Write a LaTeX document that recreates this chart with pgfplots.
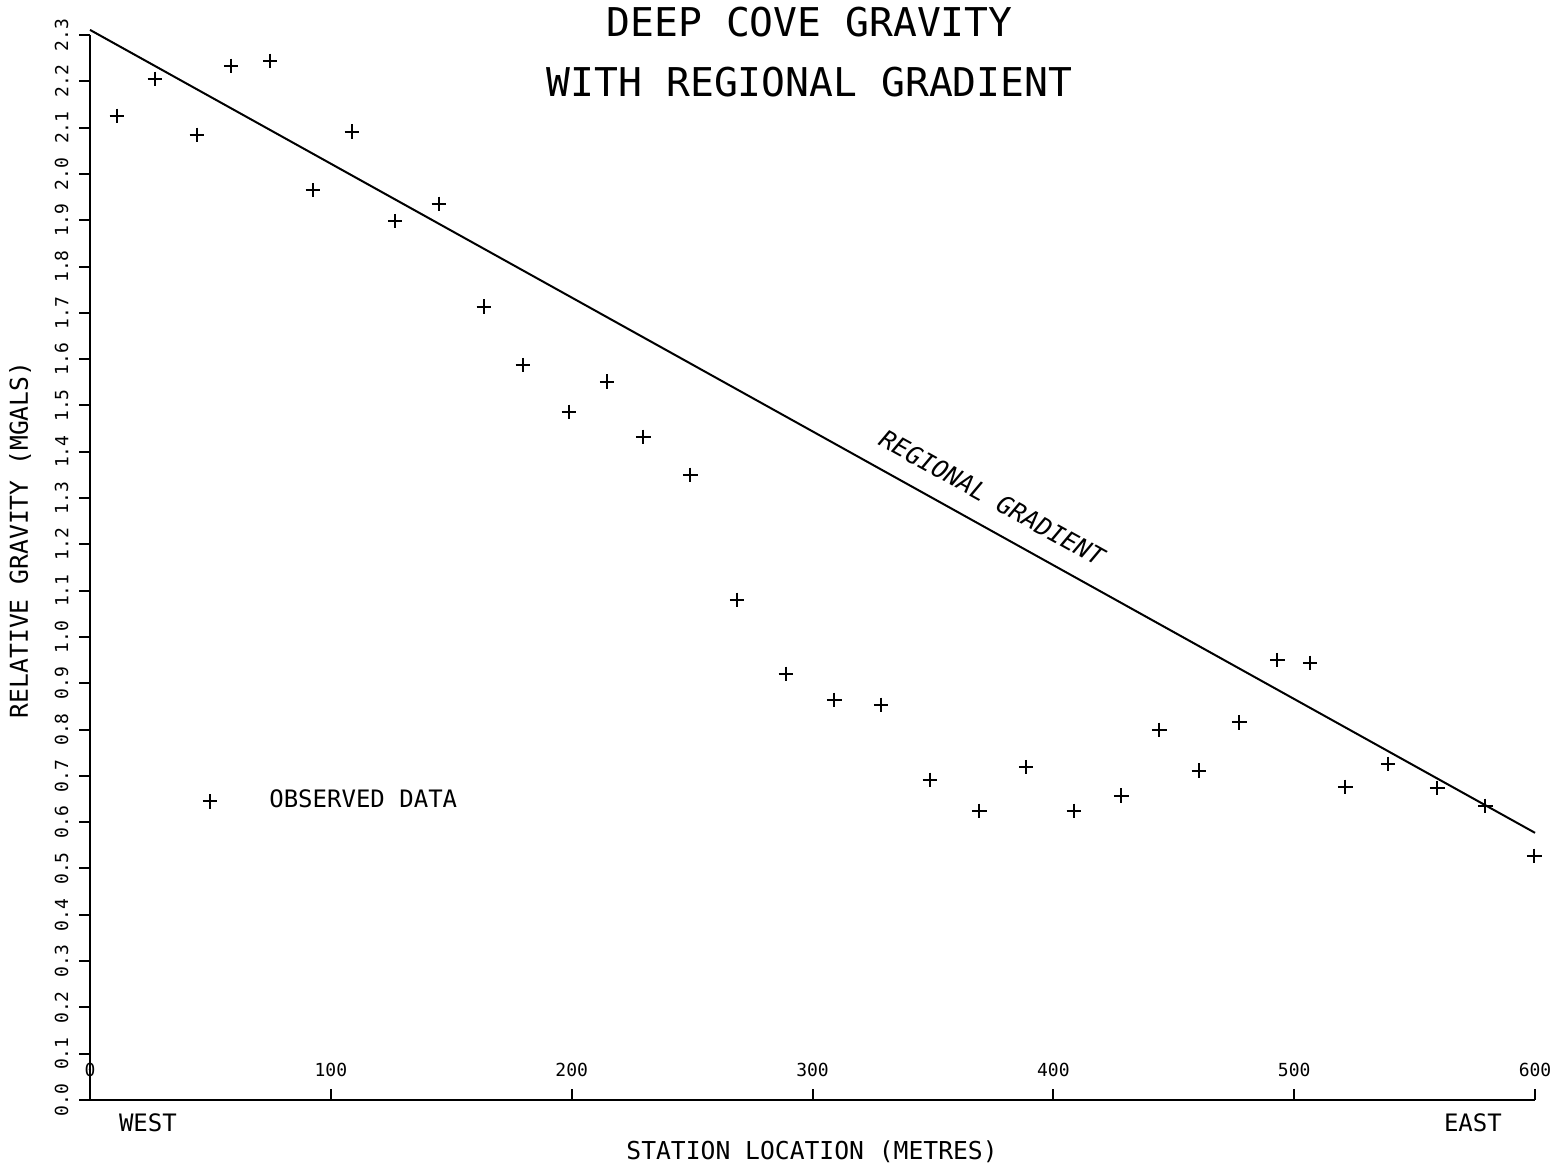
\documentclass[border=0pt]{standalone}
\usepackage{pgfplots}
\pgfplotsset{compat=1.18}
\usepackage{fontspec}
\setmainfont{DejaVu Sans Mono}[ItalicFont={DejaVu Sans Mono Oblique}]
\begin{document}
\begin{tikzpicture}
\begin{axis}[
  scale only axis, width=433.5pt, height=319.5pt,
  xmin=0, xmax=600, ymin=0, ymax=2.3,
  axis x line=bottom, axis y line=left,
  axis line style={line width=0.6pt, -},
  clip=false,
  xtick={0,100,200,300,400,500,600},
  ytick={0,0.1,0.2,0.3,0.4,0.5,0.6,0.7,0.8,0.9,1.0,1.1,1.2,1.3,1.4,1.5,1.6,1.7,1.8,1.9,2.0,2.1,2.2,2.3},
  xtick align=inside, ytick align=outside,
  major tick length=3.3pt,
  minor tick num=0,
  tick style={line width=0.6pt, black},
  /pgf/number format/assume math mode=true,
  ticklabel style={font=\fontsize{5.4}{6}\selectfont},
  xticklabel style={anchor=south, inner sep=0pt, yshift=6.9pt},
  yticklabel style={rotate=90, anchor=south, inner sep=0pt, xshift=0pt,
    /pgf/number format/fixed, /pgf/number format/fixed zerofill, /pgf/number format/precision=1},
  yticklabel shift=3pt,
  xlabel={STATION LOCATION (METRES)},
  xlabel style={at={(rel axis cs:0.4997,-0.0488)}, anchor=center, font=\fontsize{7.4}{8}\selectfont},
  ylabel={RELATIVE GRAVITY (MGALS)},
  ylabel style={at={(rel axis cs:-0.0484,0.526)}, anchor=center, font=\fontsize{7.4}{8}\selectfont},
  title={DEEP COVE GRAVITY\\WITH REGIONAL GRADIENT},
  title style={align=center, at={(rel axis cs:0.498,0.965)}, anchor=center, font=\fontsize{11.9}{18}\selectfont},
  legend style={draw=none, fill=none, inner sep=0pt, at={(axis cs:46.5,0.645)}, anchor=west,
    font=\fontsize{7.2}{8}\selectfont, nodes={inner sep=0pt},
    /tikz/every odd column/.append style={column sep=15.6pt}},
  legend image code/.code={\draw[mark repeat=1,mark phase=1,#1] plot coordinates {(0pt,0pt)};},
]
\addplot[only marks, mark=+, mark size=2.2pt, line width=0.6pt, black] coordinates {
(11.2,2.125) (27.0,2.205) (44.4,2.084) (58.6,2.233) (74.8,2.244)
(92.6,1.965) (108.8,2.091) (126.7,1.898) (144.9,1.935) (163.6,1.713)
(179.8,1.587) (198.9,1.486) (214.7,1.551) (229.7,1.432) (249.2,1.350)
(268.7,1.080) (289.0,0.920) (309.0,0.864) (328.5,0.853) (348.8,0.691)
(369.2,0.624) (388.7,0.719) (408.6,0.624) (428.2,0.657) (444.0,0.799)
(460.5,0.711) (477.2,0.816) (493.0,0.950) (506.6,0.944) (521.2,0.676)
(539.0,0.726) (559.4,0.674) (579.3,0.635) (599.7,0.527)
};
\addlegendentry{OBSERVED DATA}
\addplot[line width=0.6pt, black, no marks, forget plot] coordinates {(0,2.311) (600,0.577)};
\node[rotate=-29.06, font=\itshape\fontsize{7.4}{8}\selectfont] at (axis cs:374.6,1.300) {REGIONAL GRADIENT};
\node[font=\fontsize{7.2}{8}\selectfont] at (rel axis cs:0.0401,-0.0216) {WEST};
\node[font=\fontsize{7.2}{8}\selectfont] at (rel axis cs:0.957,-0.0216) {EAST};
\coordinate (BL) at (rel axis cs:-0.06228,-0.06291);
\coordinate (TR) at (rel axis cs:1.01522,1.03286);
\end{axis}
\pgfresetboundingbox
\path[use as bounding box] (BL) rectangle (TR);
\end{tikzpicture}
\end{document}
